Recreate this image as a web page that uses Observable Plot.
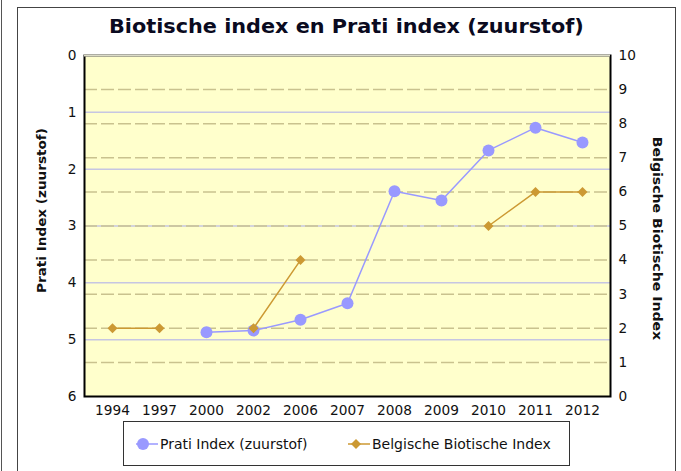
<!DOCTYPE html>
<html><head><meta charset="utf-8">
<script src="https://cdn.jsdelivr.net/npm/d3@7"></script>
<script src="https://cdn.jsdelivr.net/npm/@observablehq/plot@0.6"></script>
<style>
body{margin:0;background:#fff;font-family:"DejaVu Sans",Verdana,sans-serif;}
#wrap{position:relative;width:681px;height:471px;overflow:hidden;}
#edge{position:absolute;left:1px;top:0;width:0;height:471px;border-left:1.5px solid #555;}
#box{position:absolute;left:17px;top:7px;width:657px;height:480px;border:1.5px solid #444;}
#title{position:absolute;font-weight:bold;font-size:20px;color:#0a0a20;white-space:nowrap;}
#chart{position:absolute;left:0;top:0;}
.ylab{position:absolute;font-weight:bold;font-size:12.5px;color:#111;white-space:nowrap;}
#legend{position:absolute;left:123px;top:421px;width:445px;height:43px;border:1.5px solid #333;background:#fff;}
.item{position:absolute;top:0;height:43px;display:flex;align-items:center;font-size:14px;color:#111;white-space:nowrap;}
.item svg{margin-right:1px;}
</style></head>
<body>
<div id="wrap">
  <div id="edge"></div>
  <div id="box"></div>
  <div id="chart"></div>
  <div id="title">Biotische index en Prati index (zuurstof)</div>
  <div class="ylab" id="ylabL">Prati Index (zuurstof)</div>
  <div class="ylab" id="ylabR">Belgische Biotische Index</div>
  <div id="legend">
    <div class="item" style="left:11px"><svg width="24" height="14"><line x1="1" y1="7" x2="23" y2="7" stroke="#9999ff" stroke-width="1.5"/><circle cx="8" cy="7" r="6" fill="#9999ff"/></svg><span>Prati Index (zuurstof)</span></div>
    <div class="item" style="left:223px"><svg width="24" height="14"><line x1="1" y1="7" x2="23" y2="7" stroke="#cc9933" stroke-width="1.5"/><path d="M9,2L14,7L9,12L4,7Z" fill="#cc9933"/></svg><span>Belgische Biotische Index</span></div>
  </div>
</div>
<script>
const years = ["1994","1997","2000","2002","2006","2007","2008","2009","2010","2011","2012"];
const pratiValues = [null, null, 4.87, 4.84, 4.65, 4.36, 2.39, 2.55, 1.67, 1.27, 1.53];
const bbiValues = [2, 2, null, 2, 4, null, null, null, 5, 6, 6];
const pratiTicks = [0, 1, 2, 3, 4, 5, 6];
const bbiTicks = [0, 1, 2, 3, 4, 5, 6, 7, 8, 9, 10];

// BBI (0..10, bottom to top) mapped onto the Prati scale (0..6, top to bottom)
const bbiToPrati = b => 6 - b * 0.6;
const pratiToBbi = p => Math.round((6 - p) / 0.6);

const data = years.map((y, i) => ({
  year: y,
  prati: pratiValues[i],
  bbi: bbiValues[i] == null ? null : bbiToPrati(bbiValues[i])
}));

const chart = Plot.plot({
  width: 681, height: 471,
  marginLeft: 84, marginRight: 71, marginTop: 55, marginBottom: 75,
  style: {fontFamily: "'DejaVu Sans', Verdana, sans-serif", fontSize: "13.7px", color: "#111", background: "transparent"},
  x: {type: "point", domain: years, padding: 0.5, label: null},
  y: {domain: [0, 6], reverse: true, label: null},
  marks: [
    Plot.frame({fill: "#ffffcc", stroke: null}),
    Plot.ruleY(pratiTicks.slice(1, -1), {stroke: "#c6c6e2", strokeWidth: 1.5}),
    Plot.ruleY(bbiTicks.slice(1, -1).map(bbiToPrati), {stroke: "#c9c28e", strokeWidth: 1.5, strokeDasharray: "13,4"}),
    Plot.frame({stroke: "#000", strokeWidth: 2}),
    Plot.ruleY([0], {stroke: "#dcdcc8", strokeWidth: 2}),
    Plot.line(data, {x: "year", y: "prati", stroke: "#9999ff", strokeWidth: 1.5}),
    Plot.dot(data, {x: "year", y: "prati", r: 6, fill: "#9999ff"}),
    Plot.line(data, {x: "year", y: "bbi", stroke: "#cc9933", strokeWidth: 1.5}),
    Plot.dot(data, {x: "year", y: "bbi", symbol: "diamond2", r: 4.5, fill: "#cc9933"}),
    Plot.axisY(pratiTicks, {anchor: "left", tickSize: 0, tickPadding: 8, tickFormat: d3.format("d"), fontSize: 13.7, label: null}),
    Plot.axisY(bbiTicks.map(bbiToPrati), {anchor: "right", tickSize: 0, tickPadding: 8, tickFormat: pratiToBbi, fontSize: 13.7, label: null}),
    Plot.axisX({tickSize: 0, tickPadding: 9, fontSize: 13.7, label: null})
  ]
});
document.getElementById("chart").appendChild(chart);

// place text centred at (cx, cy), rotated, stretched to a target length
function place(id, cx, cy, deg, len) {
  const el = document.getElementById(id);
  const w = el.offsetWidth, h = el.offsetHeight;
  el.style.left = (cx - w / 2) + "px";
  el.style.top = (cy - h / 2) + "px";
  el.style.transform = `rotate(${deg}deg) scaleX(${len / w})`;
}
place("title", 346, 26, 0, 475);
place("ylabL", 42, 210, -90, 165);
place("ylabR", 657, 238, 90, 203);
</script>
</body></html>
